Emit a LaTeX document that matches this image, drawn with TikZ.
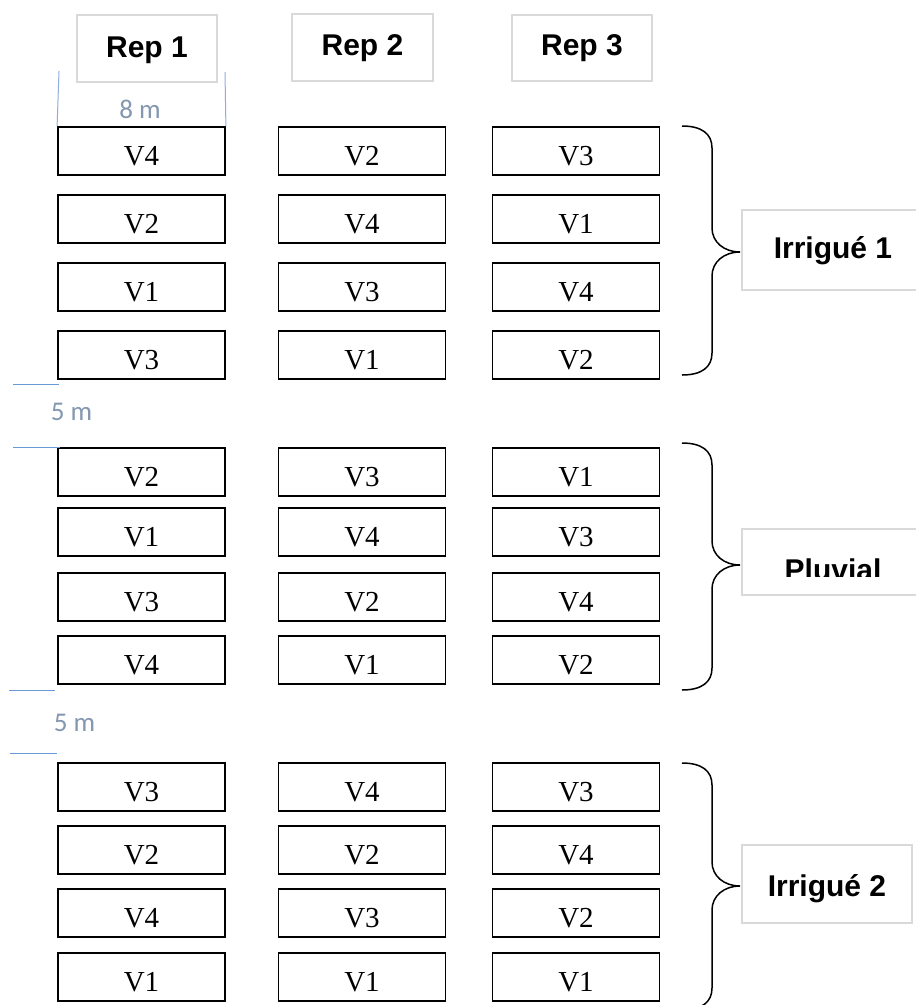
\documentclass[tikz,border=0pt]{standalone}
\usepackage{fontspec}
\setmainfont{Liberation Serif}
\newfontfamily\headfont{Liberation Sans}
\newfontfamily\notefont{Carlito}
\definecolor{notetext}{HTML}{8497B0}
\definecolor{noteline}{HTML}{6A9AD6}
\definecolor{softline}{HTML}{8FAEDB}
\definecolor{frameline}{HTML}{D9D9D9}

% one row of three plots: name prefix, centre y, varieties for Rep 1..3
\newcommand\plotrow[5]{%
  \node[plotcell] (#1c1) at (141.5,#2) {#3};
  \node[plotcell] (#1c2) at (362,#2) {#4};
  \node[plotcell] (#1c3) at (576,#2) {#5};
}
% right-hand curly brace: top y, tip y, bottom y
\newcommand\groupbrace[3]{%
  \draw[bracestroke] (682,#1) .. controls (702,#1) and (712,#1+8) .. (712,#1+22)
    -- (712,#2-24) .. controls (712,#2-10) and (724,#2) .. (740,#2)
    .. controls (724,#2) and (712,#2+10) .. (712,#2+24)
    -- (712,#3-22) .. controls (712,#3-8) and (702,#3) .. (682,#3);
}

\begin{document}
\begin{tikzpicture}[x=1pt,y=-1pt,
  plotcell/.style={draw=black, line width=1.8pt, minimum width=167pt,
    minimum height=48pt, inner sep=0pt, text height=38pt, text depth=10pt,
    font=\fontsize{29}{34}\selectfont},
  headbox/.style={draw=frameline, line width=1.5pt, inner sep=0pt,
    font=\headfont\bfseries\fontsize{30}{36}\selectfont},
  bracestroke/.style={draw=black, line width=1.5pt},
  dimrule/.style={draw=noteline, line width=1pt},
  widthrule/.style={draw=softline, line width=1pt},
  dimlabel/.style={text=notetext, inner sep=0pt, font=\notefont\fontsize{27}{32}\selectfont}]
\clip (0,0) rectangle (916,1005);
\fill[white] (0,0) rectangle (916,1005);

% column headers
\node[headbox, minimum width=140pt, minimum height=67pt, text height=42pt, text depth=25pt] (rep1) at (147,48.5) {Rep 1};
\node[headbox, minimum width=141pt, minimum height=67pt, text height=41pt, text depth=26pt] (rep2) at (362.5,47.5) {Rep 2};
\node[headbox, minimum width=140pt, minimum height=66pt, text height=40pt, text depth=26pt] (rep3) at (582,48) {Rep 3};

% block 1 (Irrigué 1)
\plotrow{a1}{151}{V4}{V2}{V3}
\plotrow{a2}{219}{V2}{V4}{V1}
\plotrow{a3}{287}{V1}{V3}{V4}
\plotrow{a4}{355}{V3}{V1}{V2}

% block 2 (Pluvial)
\plotrow{b1}{472}{V2}{V3}{V1}
\plotrow{b2}{532}{V1}{V4}{V3}
\plotrow{b3}{597}{V3}{V2}{V4}
\plotrow{b4}{660}{V4}{V1}{V2}

% block 3 (Irrigué 2)
\plotrow{c1}{787}{V3}{V4}{V3}
\plotrow{c2}{850}{V2}{V2}{V4}
\plotrow{c3}{913}{V4}{V3}{V2}
\plotrow{c4}{977}{V1}{V1}{V1}

% plot width
\coordinate (wl) at (59,71);
\coordinate (wr) at (225,72);
\draw[widthrule] (wl) -- (a1c1.north west);
\draw[widthrule] (wr) -- (a1c1.north east);
\node[dimlabel] (wtext) at (140,109) {8 m};

% gaps between blocks
\coordinate (g1a) at (13,384);
\coordinate (g1b) at (59,384);
\coordinate (g1c) at (13,447);
\coordinate (g1d) at (60,447);
\draw[dimrule] (g1a) -- (g1b);
\draw[dimrule] (g1c) -- (g1d);
\node[dimlabel] (gap1) at (71.5,412) {5 m};

\coordinate (g2a) at (9,690);
\coordinate (g2b) at (55,690);
\coordinate (g2c) at (10,753);
\coordinate (g2d) at (57,753);
\draw[dimrule] (g2a) -- (g2b);
\draw[dimrule] (g2c) -- (g2d);
\node[dimlabel] (gap2) at (74.5,723) {5 m};

% braces and treatment labels
\groupbrace{126}{252}{375}
\groupbrace{443}{565}{690}
\groupbrace{763}{886}{1010}

\node[headbox, minimum width=182pt, minimum height=80pt, text height=48pt, text depth=32pt] (irr1) at (833,250) {Irrigué 1};
\node[headbox, minimum width=182pt, minimum height=66pt] (pluv) at (833,562) {};
\begin{scope}
  \clip (742,529) rectangle (916,576.5);
  \node[headbox, draw=none, anchor=base] (pluvtext) at (833,580) {Pluvial};
\end{scope}
\node[headbox, minimum width=170pt, minimum height=78pt, text height=51pt, text depth=27pt] (irr2) at (827,884) {Irrigué 2};
\end{tikzpicture}
\end{document}
